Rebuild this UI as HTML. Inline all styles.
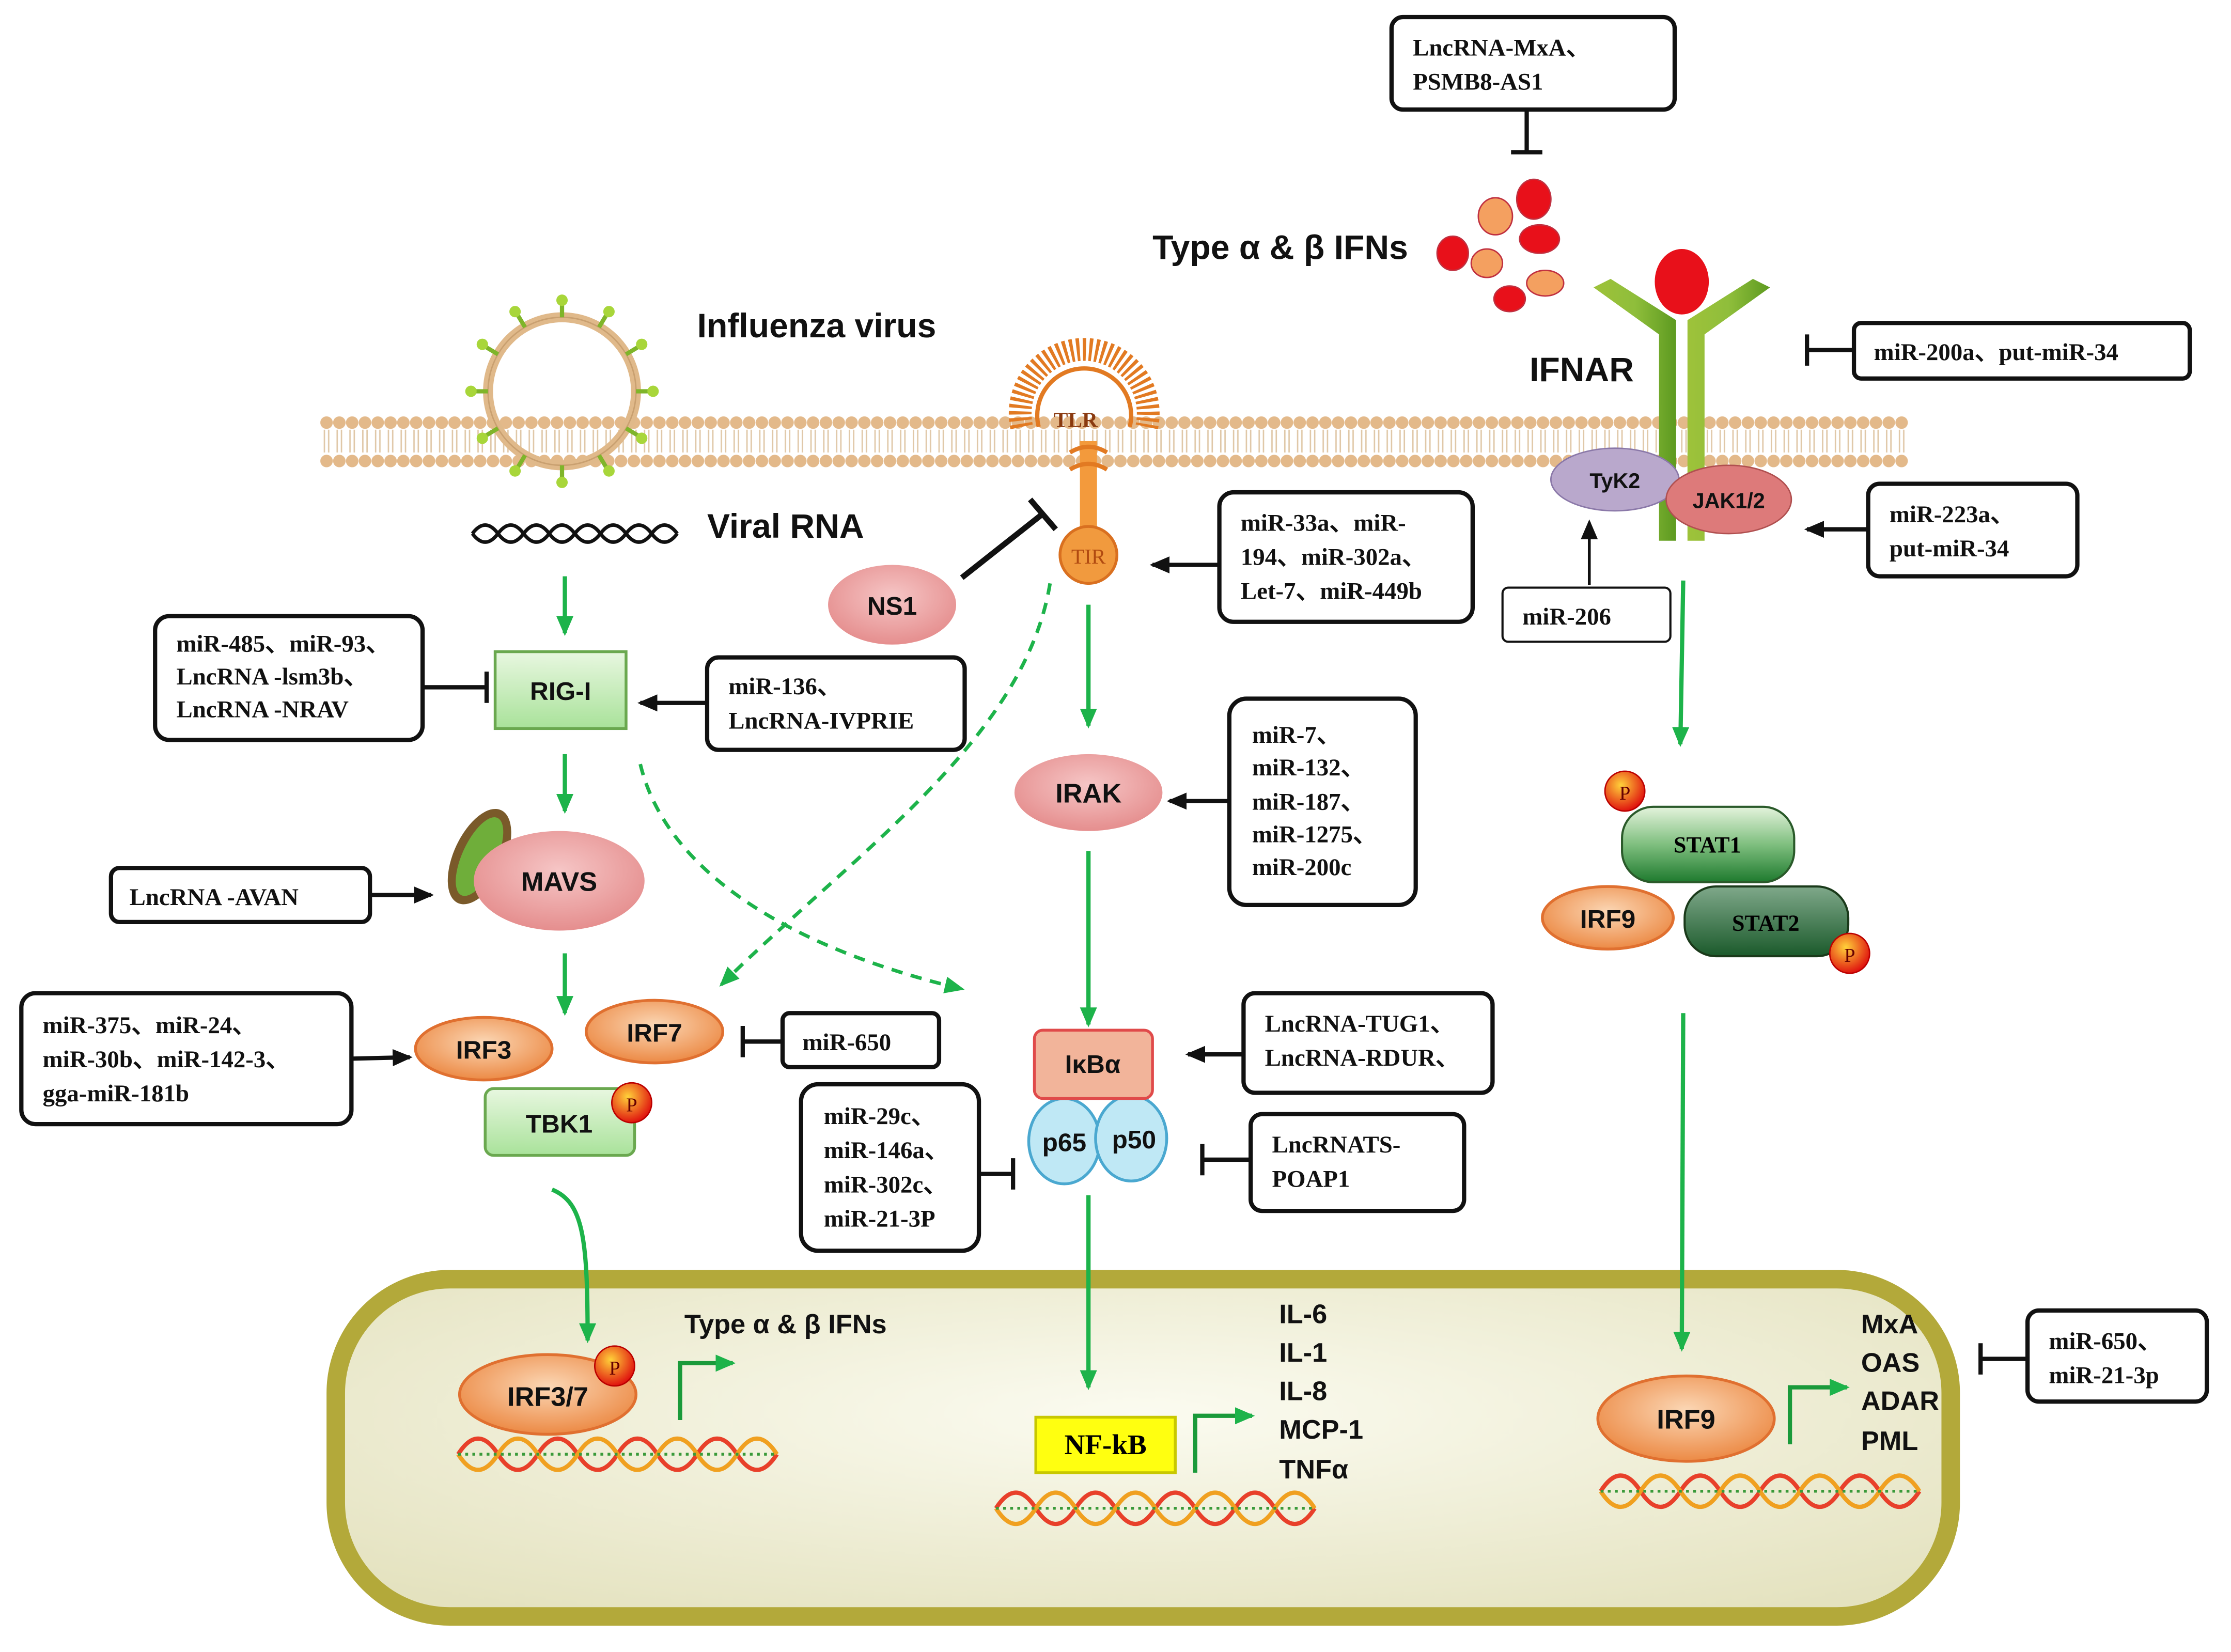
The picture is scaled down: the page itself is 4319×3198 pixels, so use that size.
<!DOCTYPE html>
<html><head><meta charset="utf-8"><style>
html,body{margin:0;padding:0;background:#fff}
svg{display:block}
.s{font-family:"Liberation Serif",serif;font-weight:bold;font-size:17px;fill:#111}
.b{font-family:"Liberation Sans",sans-serif;font-weight:bold;fill:#111}
.bx{fill:#fff;stroke:#111;stroke-width:3}
.ar{stroke:#111;stroke-width:3;fill:none}
.g{stroke:#1db34a;stroke-width:3;fill:none}
</style></head><body>
<svg width="4319" height="3198" viewBox="0 0 1568 1161" preserveAspectRatio="none" xmlns="http://www.w3.org/2000/svg">
<defs>
<pattern id="lip" x="225" y="288" width="9" height="44" patternUnits="userSpaceOnUse">
<line x1="3" y1="14" x2="3" y2="30" stroke="#e0c8a8" stroke-width="1"/><line x1="6" y1="14" x2="6" y2="30" stroke="#e0c8a8" stroke-width="1"/>
<circle cx="4.5" cy="9" r="4.4" fill="#e3b98a"/><circle cx="4.5" cy="36" r="4.4" fill="#e3b98a"/>
</pattern>
<marker id="ah" markerWidth="8" markerHeight="8" refX="6" refY="4" orient="auto" markerUnits="userSpaceOnUse"><path d="M0,0 L12,4 L0,8z" fill="#111" transform="scale(0.7,1)"/></marker>
<marker id="ak" markerWidth="14" markerHeight="12" refX="12" refY="6" orient="auto" markerUnits="userSpaceOnUse"><path d="M0,0 L14,6 L0,12z" fill="#111"/></marker>
<marker id="ag" markerWidth="14" markerHeight="12" refX="12" refY="6" orient="auto" markerUnits="userSpaceOnUse"><path d="M0,0 L14,6 L0,12z" fill="#1db34a"/></marker>
<radialGradient id="or" cx="50%" cy="40%" r="60%"><stop offset="0" stop-color="#fbd7b5"/><stop offset="1" stop-color="#ec8a45"/></radialGradient>
<radialGradient id="pk" cx="50%" cy="40%" r="60%"><stop offset="0" stop-color="#f6c6c6"/><stop offset="1" stop-color="#e58e8e"/></radialGradient>
<linearGradient id="gr" x1="0" y1="0" x2="0" y2="1"><stop offset="0" stop-color="#e8f7e0"/><stop offset="1" stop-color="#a9e29a"/></linearGradient>
<linearGradient id="st1" x1="0" y1="0" x2="0" y2="1"><stop offset="0" stop-color="#e4f3dc"/><stop offset="0.5" stop-color="#7fbf7f"/><stop offset="1" stop-color="#1e7a2e"/></linearGradient>
<linearGradient id="st2" x1="0" y1="0" x2="0" y2="1"><stop offset="0" stop-color="#7fa88a"/><stop offset="1" stop-color="#1b5a2b"/></linearGradient>
<radialGradient id="nuc" cx="50%" cy="40%" r="70%"><stop offset="0" stop-color="#fbfbf0"/><stop offset="1" stop-color="#e4e2bf"/></radialGradient>
<radialGradient id="pp" cx="40%" cy="35%" r="65%"><stop offset="0" stop-color="#ffd23a"/><stop offset="1" stop-color="#e0150f"/></radialGradient>
<linearGradient id="rc" x1="0" y1="0" x2="1" y2="0"><stop offset="0" stop-color="#9ec23a"/><stop offset="0.5" stop-color="#8fbe3b"/><stop offset="1" stop-color="#5d9a20"/></linearGradient>
</defs>

<!-- membrane -->
<rect x="225" y="288" width="1116" height="46" fill="url(#lip)"/>

<!-- virus -->
<circle cx="395" cy="275" r="52" fill="none" stroke="#e0b98a" stroke-width="7"/>
<circle cx="395" cy="275" r="52" fill="none" stroke="#c9a070" stroke-width="1"/>
<g stroke="#7fb52a" stroke-width="3">
<line x1="395" y1="223" x2="395" y2="212"/><line x1="421" y1="230" x2="427" y2="220"/><line x1="440" y1="249" x2="450" y2="243"/><line x1="447" y1="275" x2="458" y2="275"/><line x1="440" y1="301" x2="450" y2="307"/><line x1="421" y1="320" x2="427" y2="330"/><line x1="395" y1="327" x2="395" y2="338"/><line x1="369" y1="320" x2="363" y2="330"/><line x1="350" y1="301" x2="340" y2="307"/><line x1="343" y1="275" x2="332" y2="275"/><line x1="350" y1="249" x2="340" y2="243"/><line x1="369" y1="230" x2="363" y2="220"/>
</g>
<g fill="#a8d63a"><circle cx="395" cy="211" r="4"/><circle cx="428" cy="219" r="4"/><circle cx="451" cy="242" r="4"/><circle cx="459" cy="275" r="4"/><circle cx="451" cy="308" r="4"/><circle cx="428" cy="331" r="4"/><circle cx="395" cy="339" r="4"/><circle cx="362" cy="331" r="4"/><circle cx="339" cy="308" r="4"/><circle cx="331" cy="275" r="4"/><circle cx="339" cy="242" r="4"/><circle cx="362" cy="219" r="4"/></g>
<text class="b" x="490" y="237" font-size="24">Influenza virus</text>

<!-- viral RNA -->
<path d="M332,375 q9,-12 18,0 t18,0 t18,0 t18,0 t18,0 t18,0 t18,0 t18,0" fill="none" stroke="#111" stroke-width="2.5"/>
<path d="M332,375 q9,12 18,0 t18,0 t18,0 t18,0 t18,0 t18,0 t18,0 t18,0" fill="none" stroke="#111" stroke-width="2.5"/>
<text class="b" x="497" y="378" font-size="24">Viral RNA</text>

<!-- green arrows left -->
<line class="g" x1="397" y1="405" x2="397" y2="445" marker-end="url(#ag)" stroke-width="3.5"/>
<line class="g" x1="397" y1="530" x2="397" y2="570" marker-end="url(#ag)" stroke-width="3.5"/>
<line class="g" x1="397" y1="670" x2="397" y2="712" marker-end="url(#ag)" stroke-width="3.5"/>

<!-- RIG-I -->
<rect x="348" y="458" width="92" height="54" fill="url(#gr)" stroke="#6aa84f" stroke-width="2"/>
<text class="b" x="394" y="492" font-size="18" text-anchor="middle">RIG-I</text>
<rect class="bx" x="109" y="433" width="188" height="87" rx="10"/>
<text class="s" x="124" y="458">miR-485、miR-93、</text><text class="s" x="124" y="481">LncRNA -lsm3b、</text><text class="s" x="124" y="504">LncRNA -NRAV</text>
<line class="ar" x1="297" y1="483" x2="342" y2="483"/><line class="ar" x1="342" y1="472" x2="342" y2="494"/>
<rect class="bx" x="497" y="462" width="181" height="65" rx="8"/>
<text class="s" x="512" y="488">miR-136、</text><text class="s" x="512" y="512">LncRNA-IVPRIE</text>
<line class="ar" x1="497" y1="494" x2="450" y2="494" marker-end="url(#ak)"/>

<!-- MAVS -->
<ellipse cx="337" cy="602" rx="18" ry="36" transform="rotate(25 337 602)" fill="#7a5a2a"/>
<ellipse cx="337" cy="602" rx="12" ry="30" transform="rotate(25 337 602)" fill="#6fae3a"/>
<ellipse cx="393" cy="619" rx="60" ry="35" fill="url(#pk)"/>
<text class="b" x="393" y="626" font-size="19" text-anchor="middle">MAVS</text>
<rect class="bx" x="78" y="610" width="182" height="38" rx="6"/>
<text class="s" x="91" y="636">LncRNA -AVAN</text>
<line class="ar" x1="260" y1="629" x2="303" y2="629" marker-end="url(#ak)"/>

<!-- IRF3/IRF7/TBK1 -->
<ellipse cx="340" cy="737" rx="48" ry="22" fill="url(#or)" stroke="#e07030" stroke-width="2"/>
<text class="b" x="340" y="744" font-size="18" text-anchor="middle">IRF3</text>
<ellipse cx="460" cy="725" rx="48" ry="22" fill="url(#or)" stroke="#e07030" stroke-width="2"/>
<text class="b" x="460" y="732" font-size="18" text-anchor="middle">IRF7</text>
<rect x="341" y="765" width="105" height="47" rx="6" fill="url(#gr)" stroke="#6aa84f" stroke-width="2"/>
<text class="b" x="393" y="796" font-size="18" text-anchor="middle">TBK1</text>
<circle cx="444" cy="775" r="14" fill="url(#pp)" stroke="#b00" stroke-width="1"/>
<text x="444" y="781" font-family="Liberation Serif,serif" font-size="14" text-anchor="middle" fill="#600">P</text>
<rect class="bx" x="15" y="698" width="232" height="92" rx="10"/>
<text class="s" x="30" y="726">miR-375、miR-24、</text><text class="s" x="30" y="750">miR-30b、miR-142-3、</text><text class="s" x="30" y="774">gga-miR-181b</text>
<line class="ar" x1="247" y1="744" x2="288" y2="743" marker-end="url(#ak)"/>
<rect class="bx" x="550" y="712" width="110" height="38" rx="5"/>
<text class="s" x="564" y="738">miR-650</text>
<line class="ar" x1="550" y1="732" x2="522" y2="732"/><line class="ar" x1="522" y1="721" x2="522" y2="743"/>

<!-- TLR -->
<path d="M718,300 A45,45 0 1,1 806,300" fill="none" stroke="#e27a22" stroke-width="16" stroke-dasharray="2.2 2.2"/>
<path d="M730,300 A33,33 0 1,1 794,300" fill="none" stroke="#e27a22" stroke-width="3"/>
<text x="756" y="300" font-family="Liberation Serif,serif" font-size="15" font-weight="bold" fill="#8a3a10" text-anchor="middle">TLR</text>
<rect x="759" y="310" width="12" height="62" fill="#f39a3c"/>
<path d="M752,318 q13,-8 26,0 M752,330 q13,-8 26,0" stroke="#e27a22" stroke-width="3" fill="none"/>
<circle cx="765" cy="390" r="20" fill="#f19a3e" stroke="#d97020" stroke-width="2"/>
<text x="765" y="396" font-family="Liberation Serif,serif" font-size="15" fill="#b14a10" text-anchor="middle">TIR</text>
<!-- NS1 -->
<ellipse cx="627" cy="425" rx="45" ry="28" fill="url(#pk)"/>
<text class="b" x="627" y="432" font-size="18" text-anchor="middle">NS1</text>
<line x1="676" y1="406" x2="733" y2="361" stroke="#111" stroke-width="4"/><line x1="724" y1="351" x2="742" y2="372" stroke="#111" stroke-width="4"/>
<rect class="bx" x="857" y="346" width="178" height="91" rx="10"/>
<text class="s" x="872" y="373">miR-33a、miR-</text><text class="s" x="872" y="397">194、miR-302a、</text><text class="s" x="872" y="421">Let-7、miR-449b</text>
<line class="ar" x1="857" y1="397" x2="810" y2="397" marker-end="url(#ak)"/>
<line class="g" x1="765" y1="425" x2="765" y2="510" marker-end="url(#ag)" stroke-width="2"/>
<!-- IRAK -->
<ellipse cx="765" cy="557" rx="52" ry="27" fill="url(#pk)"/>
<text class="b" x="765" y="564" font-size="19" text-anchor="middle">IRAK</text>
<rect class="bx" x="864" y="491" width="131" height="145" rx="12"/>
<text class="s" x="880" y="522">miR-7、</text><text class="s" x="880" y="545">miR-132、</text><text class="s" x="880" y="569">miR-187、</text><text class="s" x="880" y="592">miR-1275、</text><text class="s" x="880" y="615">miR-200c</text>
<line class="ar" x1="864" y1="563" x2="822" y2="563" marker-end="url(#ak)"/>
<line class="g" x1="765" y1="598" x2="765" y2="720" marker-end="url(#ag)" stroke-width="2"/>
<!-- dashed -->
<path d="M738,410 C720,520 600,600 507,692" fill="none" stroke="#1db34a" stroke-width="2.5" stroke-dasharray="8 6" marker-end="url(#ag)"/>
<path d="M450,537 C470,620 570,670 676,695" fill="none" stroke="#1db34a" stroke-width="2.5" stroke-dasharray="8 6" marker-end="url(#ag)"/>
<!-- IkBa -->
<ellipse cx="748" cy="802" rx="25" ry="30" fill="#bfe8f5" stroke="#4aa8d0" stroke-width="2"/>
<ellipse cx="795" cy="800" rx="25" ry="30" fill="#bfe8f5" stroke="#4aa8d0" stroke-width="2"/>
<text class="b" x="748" y="809" font-size="18" text-anchor="middle">p65</text>
<text class="b" x="797" y="807" font-size="18" text-anchor="middle">p50</text>
<rect x="727" y="724" width="83" height="48" rx="6" fill="#f2b49a" stroke="#e04a4a" stroke-width="2"/>
<text class="b" x="768" y="754" font-size="18" text-anchor="middle">IκBα</text>
<rect class="bx" x="874" y="698" width="175" height="70" rx="8"/>
<text class="s" x="889" y="725">LncRNA-TUG1、</text><text class="s" x="889" y="749">LncRNA-RDUR、</text>
<line class="ar" x1="874" y1="741" x2="835" y2="741" marker-end="url(#ak)"/>
<rect class="bx" x="879" y="783" width="150" height="68" rx="8"/>
<text class="s" x="894" y="810">LncRNATS-</text><text class="s" x="894" y="834">POAP1</text>
<line class="ar" x1="879" y1="815" x2="845" y2="815"/><line class="ar" x1="845" y1="804" x2="845" y2="826"/>
<rect class="bx" x="563" y="762" width="125" height="117" rx="12"/>
<text class="s" x="579" y="790">miR-29c、</text><text class="s" x="579" y="814">miR-146a、</text><text class="s" x="579" y="838">miR-302c、</text><text class="s" x="579" y="862">miR-21-3P</text>
<line class="ar" x1="688" y1="825" x2="712" y2="825"/><line class="ar" x1="712" y1="814" x2="712" y2="836"/>

<!-- nucleus -->
<rect x="236" y="899" width="1135" height="237" rx="80" fill="url(#nuc)" stroke="#b3a93a" stroke-width="13"/>
<path d="M388,836 C410,845 413,870 413,942" class="g" stroke-width="2" marker-end="url(#ag)"/>
<line class="g" x1="765" y1="840" x2="765" y2="975" marker-end="url(#ag)" stroke-width="2"/>
<line class="g" x1="1183" y1="712" x2="1182" y2="948" marker-end="url(#ag)" stroke-width="2"/>

<!-- DNA helices -->
<g id="dna">
</g>
<g fill="none" stroke-width="3">
<path d="M322,1022 q14,-22 28,0 t28,0 t28,0 t28,0 t28,0 t28,0 t28,0 t28,0" stroke="#e8402a"/>
<path d="M322,1022 q14,22 28,0 t28,0 t28,0 t28,0 t28,0 t28,0 t28,0 t28,0" stroke="#f0a020"/>
<path d="M700,1060 q14,-22 28,0 t28,0 t28,0 t28,0 t28,0 t28,0 t28,0 t28,0" stroke="#e8402a"/>
<path d="M700,1060 q14,22 28,0 t28,0 t28,0 t28,0 t28,0 t28,0 t28,0 t28,0" stroke="#f0a020"/>
<path d="M1125,1048 q14,-22 28,0 t28,0 t28,0 t28,0 t28,0 t28,0 t28,0 t28,0" stroke="#e8402a"/>
<path d="M1125,1048 q14,22 28,0 t28,0 t28,0 t28,0 t28,0 t28,0 t28,0 t28,0" stroke="#f0a020"/>
</g>
<g stroke-width="2" stroke-dasharray="2 3">
<line x1="322" y1="1022" x2="546" y2="1022" stroke="#3a9a3a"/>
<line x1="700" y1="1060" x2="924" y2="1060" stroke="#3a9a3a"/>
<line x1="1125" y1="1048" x2="1349" y2="1048" stroke="#3a9a3a"/>
</g>

<!-- IRF3/7 -->
<ellipse cx="385" cy="980" rx="62" ry="28" fill="url(#or)" stroke="#e07030" stroke-width="2"/>
<text class="b" x="385" y="988" font-size="19" text-anchor="middle">IRF3/7</text>
<circle cx="432" cy="960" r="14" fill="url(#pp)" stroke="#b00"/>
<text x="432" y="966" font-family="Liberation Serif,serif" font-size="14" text-anchor="middle" fill="#600">P</text>
<path d="M478,998 L478,958 L515,958" fill="none" stroke="#1a9a3a" stroke-width="3" marker-end="url(#ag)"/>
<text class="b" x="481" y="937" font-size="19">Type α &amp; β IFNs</text>
<!-- NF-kB -->
<rect x="728" y="996" width="98" height="39" fill="#ffff10" stroke="#c8c800" stroke-width="2"/>
<text x="777" y="1022" font-family="Liberation Serif,serif" font-weight="bold" font-size="20" text-anchor="middle">NF-kB</text>
<path d="M840,1035 L840,995 L880,995" fill="none" stroke="#1a9a3a" stroke-width="3" marker-end="url(#ag)"/>
<g class="b" font-size="19"><text x="899" y="930">IL-6</text><text x="899" y="957">IL-1</text><text x="899" y="984">IL-8</text><text x="899" y="1011">MCP-1</text><text x="899" y="1039">TNFα</text></g>
<!-- IRF9 nuc -->
<ellipse cx="1185" cy="997" rx="62" ry="30" fill="url(#or)" stroke="#e07030" stroke-width="2"/>
<text class="b" x="1185" y="1004" font-size="19" text-anchor="middle">IRF9</text>
<path d="M1258,1015 L1258,975 L1298,975" fill="none" stroke="#1a9a3a" stroke-width="3" marker-end="url(#ag)"/>
<g class="b" font-size="19"><text x="1308" y="937">MxA</text><text x="1308" y="964">OAS</text><text x="1308" y="991">ADAR</text><text x="1308" y="1019">PML</text></g>
<rect class="bx" x="1425" y="921" width="126" height="64" rx="8"/>
<text class="s" x="1440" y="948">miR-650、</text><text class="s" x="1440" y="972">miR-21-3p</text>
<line class="ar" x1="1425" y1="955" x2="1392" y2="955"/><line class="ar" x1="1392" y1="944" x2="1392" y2="966"/>

<!-- IFNs top -->
<rect class="bx" x="978" y="12" width="199" height="65" rx="8"/>
<text class="s" x="993" y="39">LncRNA-MxA、</text><text class="s" x="993" y="63">PSMB8-AS1</text>
<line class="ar" x1="1073" y1="77" x2="1073" y2="107"/><line class="ar" x1="1062" y1="107" x2="1084" y2="107"/>
<text class="b" x="810" y="182" font-size="24">Type α &amp; β IFNs</text>
<g stroke="#c03040" stroke-width="1">
<ellipse cx="1078" cy="140" rx="12" ry="14" fill="#e8101a"/>
<ellipse cx="1051" cy="152" rx="12" ry="13" fill="#f4a060"/>
<ellipse cx="1082" cy="168" rx="14" ry="10" fill="#e8101a"/>
<ellipse cx="1021" cy="178" rx="11" ry="12" fill="#e8101a"/>
<ellipse cx="1045" cy="185" rx="11" ry="10" fill="#f4a060"/>
<ellipse cx="1086" cy="199" rx="13" ry="9" fill="#f4a060"/>
<ellipse cx="1061" cy="210" rx="11" ry="9" fill="#e8101a"/>
</g>
<!-- IFNAR -->
<path d="M1120,202 L1166,235 L1166,380 L1178,380 L1178,225 L1132,196z" fill="url(#rc)"/>
<path d="M1244,202 L1198,235 L1198,380 L1186,380 L1186,225 L1232,196z" fill="url(#rc)"/>
<ellipse cx="1182" cy="198" rx="19" ry="23" fill="#e8101a"/>
<text class="b" x="1075" y="268" font-size="24">IFNAR</text>
<ellipse cx="1135" cy="337" rx="45" ry="22" fill="#b9a8cc" stroke="#8a78a8"/>
<text class="b" x="1135" y="343" font-size="15" text-anchor="middle" fill="#222">TyK2</text>
<ellipse cx="1215" cy="351" rx="44" ry="24" fill="#dd7a7a" stroke="#b05050"/>
<text class="b" x="1215" y="357" font-size="15" text-anchor="middle" fill="#222">JAK1/2</text>
<rect class="bx" x="1303" y="227" width="236" height="39" rx="5"/>
<text class="s" x="1317" y="253">miR-200a、put-miR-34</text>
<line class="ar" x1="1303" y1="246" x2="1270" y2="246"/><line class="ar" x1="1270" y1="235" x2="1270" y2="257"/>
<rect class="bx" x="1313" y="340" width="147" height="65" rx="8"/>
<text class="s" x="1328" y="367">miR-223a、</text><text class="s" x="1328" y="391">put-miR-34</text>
<line class="ar" x1="1313" y1="372" x2="1270" y2="372" marker-end="url(#ak)"/>
<rect x="1056" y="413" width="118" height="38" rx="4" fill="#fff" stroke="#111" stroke-width="1.5"/>
<text class="s" x="1070" y="439">miR-206</text>
<line x1="1117" y1="411" x2="1117" y2="367" stroke="#111" stroke-width="2" marker-end="url(#ak)"/>
<line class="g" x1="1183" y1="408" x2="1181" y2="523" marker-end="url(#ag)" stroke-width="3"/>
<!-- STAT -->
<rect x="1140" y="567" width="121" height="53" rx="22" fill="url(#st1)" stroke="#2a5a2a" stroke-width="1.5"/>
<text x="1200" y="599" font-family="Liberation Serif,serif" font-weight="bold" font-size="16" text-anchor="middle">STAT1</text>
<circle cx="1142" cy="556" r="14" fill="url(#pp)" stroke="#b00"/>
<text x="1142" y="562" font-family="Liberation Serif,serif" font-size="14" text-anchor="middle" fill="#600">P</text>
<ellipse cx="1130" cy="645" rx="46" ry="22" fill="url(#or)" stroke="#e07030" stroke-width="2"/>
<text class="b" x="1130" y="652" font-size="18" text-anchor="middle">IRF9</text>
<rect x="1184" y="623" width="115" height="49" rx="22" fill="url(#st2)" stroke="#1a3a1a" stroke-width="1.5"/>
<text x="1241" y="654" font-family="Liberation Serif,serif" font-weight="bold" font-size="16" text-anchor="middle">STAT2</text>
<circle cx="1300" cy="670" r="14" fill="url(#pp)" stroke="#b00"/>
<text x="1300" y="676" font-family="Liberation Serif,serif" font-size="14" text-anchor="middle" fill="#600">P</text>
</svg>
</body></html>
